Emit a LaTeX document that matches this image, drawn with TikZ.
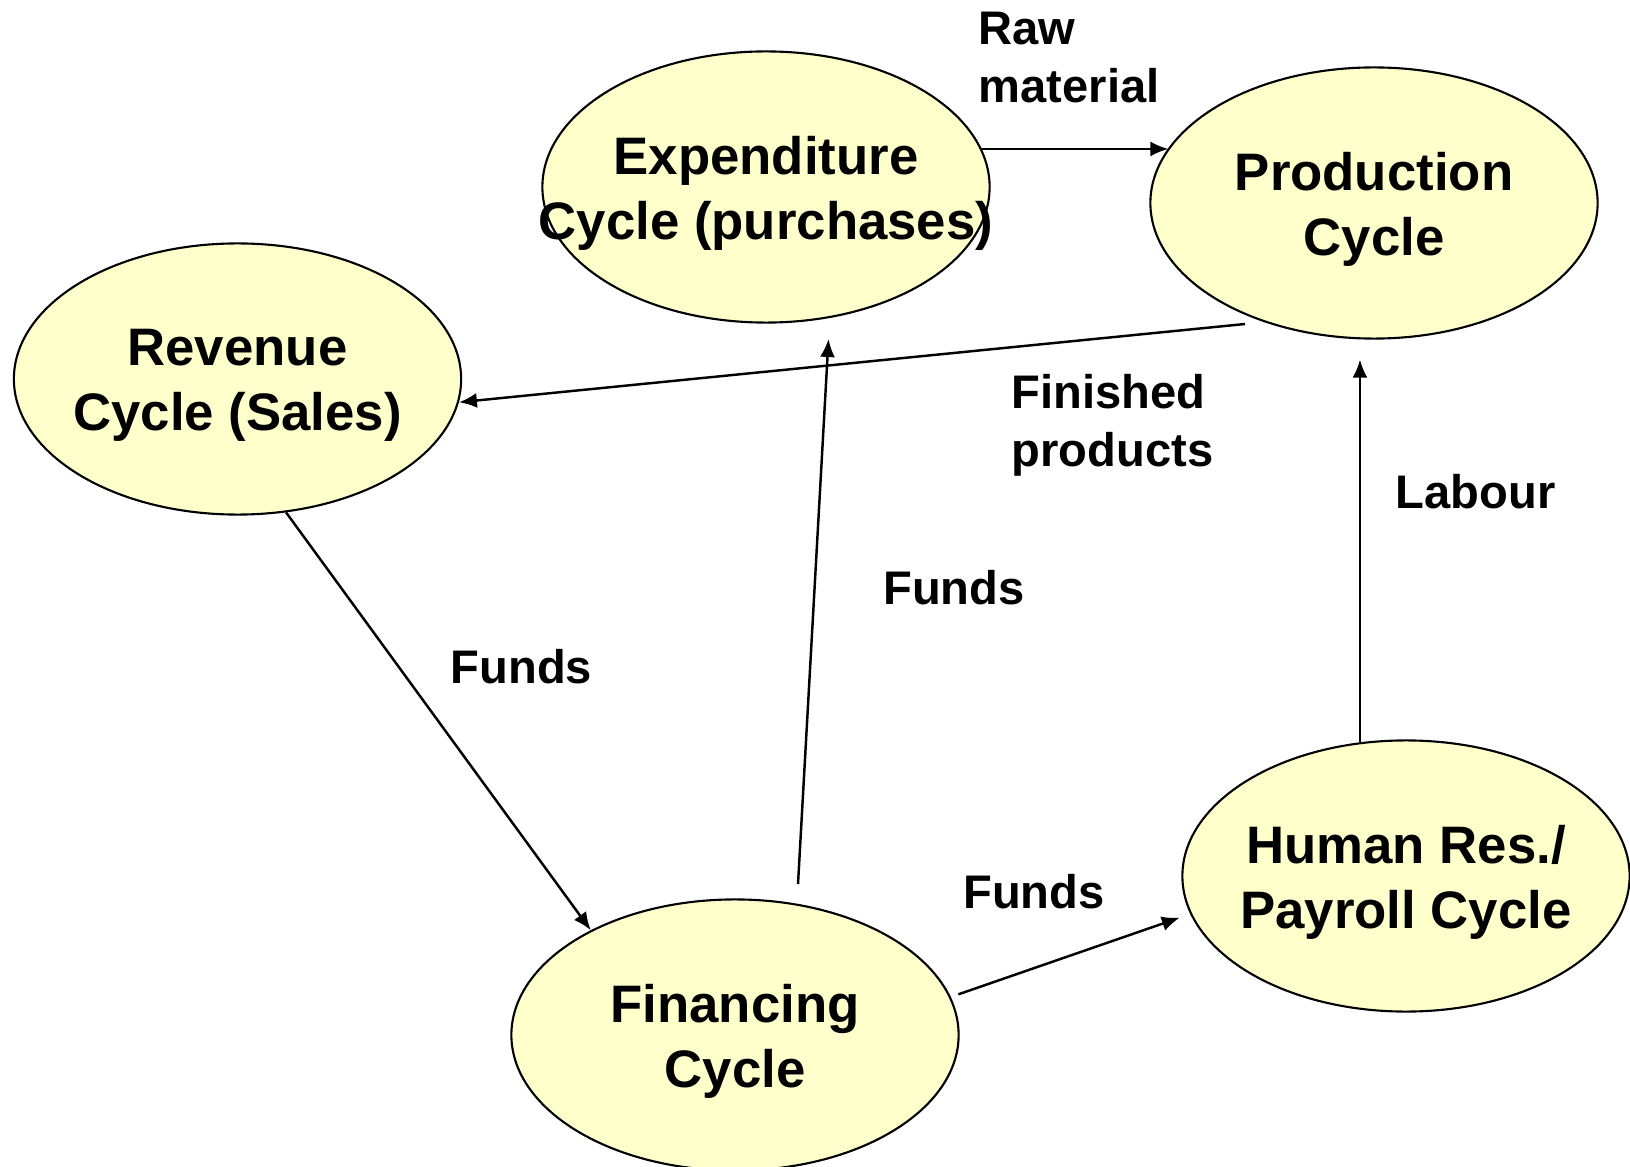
\documentclass[tikz,border=0pt]{standalone}
\usepackage{fontspec}
\setmainfont{Liberation Sans}
\usetikzlibrary{shapes.geometric,arrows.meta}
\usetikzlibrary{calc,positioning}
\definecolor{stagefill}{HTML}{FFFFCC}
\tikzstyle{arrow} = [line width=0.7pt,-{Latex[length=0.18cm,width=0.15cm]}]
\tikzset{
    stage/.style = {draw, fill=stagefill, ellipse, line width=0.6pt, minimum width=4.47cm, minimum height=2.71cm, inner sep=0pt},
    stagetext/.style = {font=\fontsize{15}{18.5}\selectfont\bfseries, align=center, yshift=-0.06cm},
    flow/.style = {font=\fontsize{13.4}{16.5}\selectfont\bfseries, align=left, anchor=west, inner sep=0pt},
}

\begin{document}
\begin{tikzpicture}[x=0.01cm, y=-0.01cm]
    \clip (0,0) rectangle (1630,1167);

    \node [stage, label={[stagetext]center:Expenditure\\Cycle (purchases)}] (exp) at (766,187) {};
    \node [stage, label={[stagetext]center:Production\\Cycle}] (prod) at (1374,203) {};
    \node [stage, label={[stagetext]center:Revenue\\Cycle (Sales)}] (rev) at (237.5,379) {};
    \node [stage, label={[stagetext]center:Financing\\Cycle}] (fin) at (735,1035) {};
    \node [stage, label={[stagetext]center:Human Res./\\Payroll Cycle}] (hr) at (1406,876) {};

    \node [flow] (raw) at (978,57.5) {Raw\\material};
    \node [flow] (finished) at (1011,425) {Finished\\products};
    \node [flow] (labour) at (1395,492) {Labour};
    \node [flow] (funds1) at (450,667) {Funds};
    \node [flow] (funds2) at (882.5,588) {Funds};
    \node [flow] (funds3) at (962.5,892) {Funds};

    \draw [arrow] (exp.10) -- (exp.10 -| prod.165);
    \draw [arrow] ($(prod.center)+(-129,121)$) -- (rev.-6);
    \draw [arrow] (rev.-70) -- (fin.144);
    \draw [arrow] ($(fin.center)+(63,-151)$) -- ($(exp.center)+(62.5,152)$);
    \draw [arrow, shorten <=0.08cm, shorten >=0.11cm] (fin.10) -- (hr.190);
    \draw [arrow, shorten >=0.2cm] (hr.109) -- (hr.109 |- prod.south);
\end{tikzpicture}
\end{document}
